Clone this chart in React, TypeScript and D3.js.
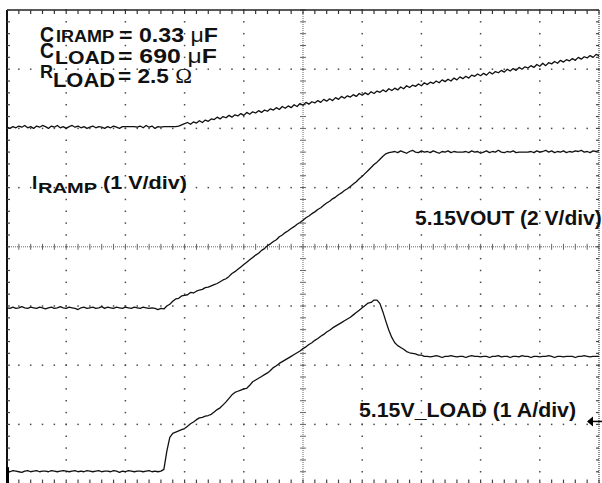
import React from "react";
import * as d3 from "d3";

const W = 602;
const H = 483;
const X_DIVS = 10;
const Y_DIVS = 8;
const SAMPLE_STEP = 0.05; // divisions between scope samples

// Top trace (divisions from the bottom of the screen)
const RAMP_TRACE = [
  6.02,6.00,6.03,6.01,6.04,6.02,6.05,6.01,6.03,6.00,
  6.04,6.02,6.05,6.03,6.00,6.04,6.02,6.05,6.01,6.03,
  6.00,6.03,6.05,6.02,6.04,6.01,6.03,6.00,6.02,6.04,
  6.01,6.03,6.02,6.00,6.03,6.01,6.04,6.02,6.00,6.03,
  6.03,6.03,6.03,6.03,6.02,6.04,6.01,6.05,6.02,6.04,
  6.00,6.03,6.02,6.03,6.03,6.03,6.03,6.03,6.04,6.06,
  6.08,6.10,6.07,6.11,6.09,6.13,6.10,6.14,6.12,6.16,
  6.15,6.19,6.16,6.20,6.18,6.22,6.19,6.23,6.21,6.25,
  6.22,6.27,6.24,6.28,6.26,6.30,6.27,6.31,6.29,6.33,
  6.31,6.35,6.32,6.37,6.34,6.38,6.35,6.40,6.37,6.42,
  6.39,6.44,6.41,6.45,6.43,6.47,6.44,6.49,6.46,6.50,
  6.47,6.52,6.49,6.54,6.51,6.55,6.53,6.57,6.54,6.59,
  6.56,6.60,6.57,6.62,6.59,6.63,6.61,6.65,6.62,6.67,
  6.64,6.68,6.65,6.70,6.67,6.72,6.69,6.73,6.71,6.75,
  6.72,6.77,6.74,6.78,6.76,6.80,6.77,6.82,6.79,6.83,
  6.80,6.85,6.82,6.87,6.84,6.88,6.85,6.90,6.88,6.92,
  6.89,6.93,6.90,6.95,6.92,6.96,6.94,6.98,6.95,7.00,
  6.97,7.01,6.98,7.03,7.00,7.04,7.02,7.06,7.03,7.08,
  7.05,7.10,7.06,7.11,7.09,7.13,7.10,7.15,7.12,7.16,
  7.14,7.18,7.15,7.20,7.17,7.21,7.19,7.23,7.20,7.25,
  7.23,
];

// 5.15VOUT trace
const VOUT_TRACE = [
  2.97,2.96,2.98,2.96,2.97,2.99,2.97,2.96,2.98,2.97,
  2.96,2.98,2.97,2.95,2.97,2.98,2.96,2.97,2.99,2.97,
  2.96,2.98,2.97,2.96,2.94,2.97,2.98,2.96,2.97,2.98,
  2.96,2.97,2.99,2.96,2.98,2.97,2.96,2.98,2.97,2.96,
  2.98,2.97,2.96,2.98,2.97,2.96,2.98,2.97,2.96,2.97,
  2.96,2.94,2.96,
  2.95,3.00,3.03,3.08,3.12,3.13,3.17,3.18,3.19,3.23,
  3.22,3.25,3.27,3.28,3.31,3.32,3.34,3.36,3.38,3.41,
  3.44,3.46,3.50,3.55,3.58,3.62,3.66,3.70,3.74,3.78,
  3.82,3.86,3.89,3.94,3.97,4.02,4.05,4.09,4.12,4.17,
  4.20,4.24,4.27,4.31,4.34,4.38,4.41,4.45,4.49,4.52,
  4.56,4.59,4.63,4.66,4.70,4.74,4.77,4.81,4.84,4.88,
  4.91,4.95,4.98,5.02,5.06,5.10,5.15,5.19,5.24,5.29,
  5.34,5.39,5.43,5.48,5.53,5.57,5.59,5.60,
  5.61,5.59,5.62,5.60,5.58,5.61,5.63,5.60,5.59,5.62,
  5.60,5.61,5.59,5.62,5.60,5.58,5.61,5.60,5.62,5.59,
  5.61,5.60,5.60,5.60,5.61,5.59,5.62,5.60,5.61,5.58,
  5.60,5.62,5.59,5.61,5.60,5.63,5.60,5.59,5.61,5.60,
  5.62,5.59,5.60,5.60,5.60,5.60,5.61,5.59,5.62,5.60,
  5.61,5.63,5.60,5.62,5.59,5.61,5.60,5.62,5.59,5.61,
  5.60,5.62,5.61,5.63,5.60,5.61,5.59,5.62,5.61,5.63,
];

// 5.15V_LOAD trace
const LOAD_TRACE = [
  0.21,0.20,0.22,0.21,0.20,0.19,0.21,0.22,0.20,0.21,
  0.22,0.20,0.21,0.21,0.20,0.22,0.21,0.20,0.21,0.22,
  0.21,0.20,0.21,0.22,0.20,0.21,0.20,0.22,0.21,0.20,
  0.21,0.22,0.20,0.21,0.21,0.20,0.22,0.21,0.19,0.21,
  0.20,0.22,0.21,0.20,0.21,0.21,0.20,0.21,0.22,0.20,
  0.21,0.20,0.21,
  0.24,0.55,0.78,0.85,0.87,0.89,0.91,0.93,0.97,1.01,
  1.04,1.08,1.11,1.12,1.14,1.15,1.17,1.21,1.25,1.28,
  1.33,1.38,1.44,1.50,1.54,1.56,1.58,1.60,1.61,1.66,
  1.72,1.75,1.78,1.81,1.84,1.87,1.91,1.96,1.99,2.03,
  2.06,2.09,2.12,2.15,2.18,2.21,2.24,2.28,2.31,2.35,
  2.38,2.42,2.45,2.49,2.52,2.56,2.59,2.63,2.66,2.69,
  2.72,2.75,2.78,2.81,2.85,2.89,2.93,2.97,3.01,3.05,
  3.06,3.10,3.10,3.04,2.90,2.74,2.59,2.47,2.38,2.33,
  2.30,2.27,2.23,2.21,2.20,2.19,2.17,2.17,
  2.15,2.15,2.14,2.15,2.16,2.15,2.13,2.15,2.15,2.16,
  2.15,2.14,2.15,2.15,2.13,2.15,2.16,2.15,2.15,2.14,
  2.15,2.15,2.13,2.15,2.15,2.16,2.14,2.15,2.15,2.13,
  2.15,2.15,2.14,2.16,2.15,2.15,2.13,2.15,2.15,2.14,
  2.15,2.15,2.16,2.15,2.13,2.15,2.15,2.14,2.15,2.15,
  2.15,2.13,2.15,2.15,2.16,2.15,2.14,2.15,2.15,2.15,
];

const TRACES = [RAMP_TRACE, VOUT_TRACE, LOAD_TRACE];

const MAJOR_X = [1, 2, 3, 4, 6, 7, 8, 9];
const MAJOR_Y = [1, 2, 3, 5, 6, 7];
const CENTER_X = 5;
const CENTER_Y = 4;
const TRIGGER_LEVEL = 1.05; // divisions
const GROUND_LEVEL = 0.21;

const SANS = "'Liberation Sans', Arial, Helvetica, sans-serif";

export default function App() {
  const x = d3.scaleLinear().domain([0, X_DIVS]).range([7, 599]);
  const y = d3.scaleLinear().domain([0, Y_DIVS]).range([483.6, 10]);
  const minorX = d3.range(0, X_DIVS + 0.001, 0.2);
  const minorY = d3.range(0, Y_DIVS + 0.001, 0.2);

  const line = d3
    .line<number>()
    .x((_, i) => x(i * SAMPLE_STEP))
    .y((d) => y(d));

  const dotColor = "#4a4a4a";

  return (
    <svg
      width={W}
      height={H}
      style={{ position: "fixed", left: 0, top: 0, background: "#fff" }}
      fontFamily={SANS}
    >
      <rect width={W} height={H} fill="#fff" />
      {/* dotted grid */}
      {MAJOR_X.map((k) =>
        minorY.map((m, j) => (
          <rect key={`vx${k}-${j}`} x={x(k) - 0.75} y={y(m) - 0.75} width={1.5} height={1.5} fill={dotColor} />
        ))
      )}
      {MAJOR_Y.map((k) =>
        minorX.map((m, j) => (
          <rect key={`hy${k}-${j}`} x={x(m) - 0.75} y={y(k) - 0.75} width={1.5} height={1.5} fill={dotColor} />
        ))
      )}
      {/* center axes */}
      <line x1={x(CENTER_X)} x2={x(CENTER_X)} y1={y(Y_DIVS)} y2={y(0)} stroke="#666" strokeWidth={1} strokeDasharray="1 1" />
      <line x1={x(0)} x2={x(X_DIVS)} y1={y(CENTER_Y)} y2={y(CENTER_Y)} stroke="#666" strokeWidth={1} strokeDasharray="1 1" />
      {minorY.map((m, j) => (
        <line key={`cty${j}`} x1={x(CENTER_X) - 3} x2={x(CENTER_X) + 3} y1={y(m)} y2={y(m)} stroke="#666" strokeWidth={1} />
      ))}
      {minorX.map((m, j) => (
        <line key={`ctx${j}`} x1={x(m)} x2={x(m)} y1={y(CENTER_Y) - 3} y2={y(CENTER_Y) + 3} stroke="#666" strokeWidth={1} />
      ))}
      {/* frame */}
      <line x1={x(0)} x2={x(X_DIVS)} y1={y(Y_DIVS)} y2={y(Y_DIVS)} stroke="#222" strokeWidth={1.6} />
      {minorX.map((m, j) => (
        <line key={`tt${j}`} x1={x(m)} x2={x(m)} y1={y(Y_DIVS)} y2={y(Y_DIVS) + 4} stroke="#333" strokeWidth={1.2} />
      ))}
      {minorX.map((m, j) => (
        <line key={`bt${j}`} x1={x(m)} x2={x(m)} y1={y(0)} y2={y(0) - 4} stroke="#444" strokeWidth={1.2} />
      ))}
      <line x1={x(0)} x2={x(0)} y1={y(Y_DIVS)} y2={H} stroke="#111" strokeWidth={2} />
      {minorY.map((m, j) => (
        <line key={`lt${j}`} x1={x(0)} x2={x(0) + 3} y1={y(m)} y2={y(m)} stroke="#444" strokeWidth={1.2} />
      ))}
      <line x1={x(X_DIVS)} x2={x(X_DIVS)} y1={y(Y_DIVS)} y2={H} stroke="#444" strokeWidth={1.2} strokeDasharray="1 1" />
      {minorY.map((m, j) => (
        <line key={`rt${j}`} x1={x(X_DIVS) - 3} x2={x(X_DIVS)} y1={y(m)} y2={y(m)} stroke="#444" strokeWidth={1.2} />
      ))}

      {/* traces */}
      {TRACES.map((t, i) => (
        <path key={`tr${i}`} d={line(t) || ""} fill="none" stroke="#111" strokeWidth={1.3} strokeLinejoin="round" />
      ))}

      {/* channel markers */}
      <rect x={x(0) - 1} y={y(GROUND_LEVEL) - 4} width={3} height={H - y(GROUND_LEVEL) + 4} fill="#000" />
      <line x1={x(X_DIVS) - 11} x2={W} y1={y(TRIGGER_LEVEL)} y2={y(TRIGGER_LEVEL)} stroke="#000" strokeWidth={1.5} />
      <path
        d={`M${x(X_DIVS) - 12},${y(TRIGGER_LEVEL)} l6,-5 l0,10 Z`}
        fill="#000"
      />

      {/* annotation block */}
      <g fontWeight="bold" fill="#111">
        <text x={40} y={42} fontSize={22} textLength={14} lengthAdjust="spacingAndGlyphs">C</text>
        <text x={56} y={42} fontSize={16} textLength={58} lengthAdjust="spacingAndGlyphs">IRAMP</text>
        <text x={119} y={42} fontSize={20} textLength={99} lengthAdjust="spacingAndGlyphs">
          = 0.33 <tspan fontWeight="normal">μ</tspan>F
        </text>

        <text x={40} y={58} fontSize={22} textLength={14} lengthAdjust="spacingAndGlyphs">C</text>
        <text x={55} y={64} fontSize={18} textLength={60} lengthAdjust="spacingAndGlyphs">LOAD</text>
        <text x={118} y={63} fontSize={21} textLength={99} lengthAdjust="spacingAndGlyphs">
          = 690 <tspan fontWeight="normal">μ</tspan>F
        </text>

        <text x={40} y={78} fontSize={18} textLength={13} lengthAdjust="spacingAndGlyphs">R</text>
        <text x={53} y={87} fontSize={20} textLength={62} lengthAdjust="spacingAndGlyphs">LOAD</text>
        <text x={118} y={83} fontSize={20} textLength={74} lengthAdjust="spacingAndGlyphs">
          = 2.5 <tspan fontWeight="normal" fontFamily="'Liberation Serif', serif">Ω</tspan>
        </text>

        <text x={32} y={189} fontSize={19}>I</text>
        <text x={38} y={193} fontSize={15} textLength={59} lengthAdjust="spacingAndGlyphs">RAMP</text>
        <text x={103} y={189} fontSize={19} textLength={84} lengthAdjust="spacingAndGlyphs">(1 V/div)</text>

        <text x={415} y={225} fontSize={21}>5.15VOUT (2 V/div)</text>
        <text x={359} y={417} fontSize={21} textLength={217} lengthAdjust="spacingAndGlyphs">5.15V_LOAD (1 A/div)</text>
      </g>
    </svg>
  );
}
